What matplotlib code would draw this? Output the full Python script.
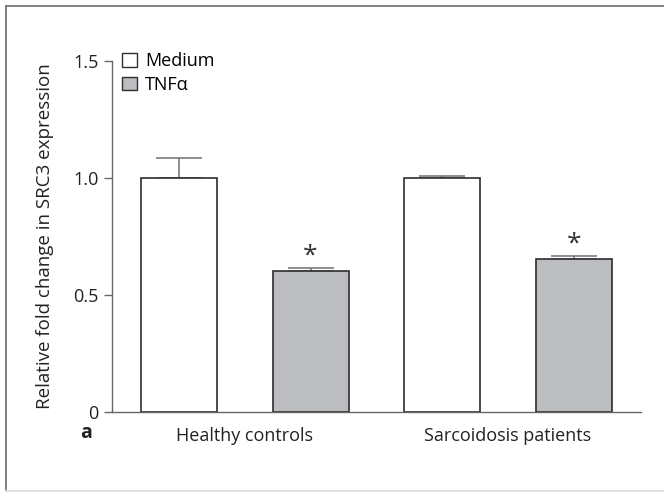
import matplotlib.pyplot as plt
from matplotlib.lines import Line2D
import numpy as np

plt.rcParams['font.family'] = ['Open Sans', 'DejaVu Sans']

groups = ['Healthy controls', 'Sarcoidosis patients']
conditions = ['Medium', 'TNF\u03b1']
medium = [1.0, 1.0]
medium_err = [0.083, 0.009]
tnf = [0.603, 0.654]
tnf_err = [0.010, 0.010]
significant = [True, True]

fig = plt.figure(figsize=(6.64, 4.92), dpi=100)
ax = fig.add_axes([0.169, 0.1632, 0.796, 0.7134])

# positions: Medium/TNF pairs for each group
pos_med = np.array([0, 2])
pos_tnf = np.array([1, 3])
w = 0.577
edge = '#2e2e2e'
gray = '#bcbdc1'
fs = 13

ax.bar(pos_med, medium, w, color='white', edgecolor=edge, linewidth=1.2, zorder=2)
ax.bar(pos_tnf, tnf, w, color=gray, edgecolor=edge, linewidth=1.2, zorder=2)
ax.errorbar(pos_med, medium, yerr=[np.zeros(2), medium_err], fmt='none',
            ecolor='#707070', elinewidth=1.1, capsize=16.5, capthick=1.1, zorder=1)
ax.errorbar(pos_tnf, tnf, yerr=[np.zeros(2), tnf_err], fmt='none',
            ecolor='#707070', elinewidth=1.1, capsize=16.5, capthick=1.1, zorder=1)

for x, y, e, s in zip(pos_tnf, tnf, tnf_err, significant):
    if s:
        ax.annotate('*', (x, y + e), xytext=(0, 0), textcoords='offset points',
                    ha='center', va='bottom', fontsize=19, color='#333333')

ax.set_xlim(-0.506, 3.508)
ax.set_ylim(0, 1.5)
ax.set_yticks([0, 0.5, 1.0, 1.5])
ax.set_yticklabels(['0', '0.5', '1.0', '1.5'])
ax.set_xticks([0.5, 2.5])
ax.set_xticklabels(groups)
ax.tick_params(axis='x', length=0, pad=11, labelsize=fs, colors='#222222')
ax.tick_params(axis='y', length=6, width=1, color='#666666', pad=4,
               labelsize=fs, labelcolor='#222222')
for sp in ['top', 'right']:
    ax.spines[sp].set_visible(False)
for sp in ['left', 'bottom']:
    ax.spines[sp].set_color('#666666')
    ax.spines[sp].set_linewidth(1)

ax.set_ylabel('Relative fold change in SRC3 expression', fontsize=13.5,
              color='#222222', labelpad=14)

handles = [plt.Rectangle((0, 0), 1, 1, facecolor='white', edgecolor=edge, linewidth=1),
           plt.Rectangle((0, 0), 1, 1, facecolor=gray, edgecolor=edge, linewidth=1)]
leg = ax.legend(handles, conditions, loc='upper left', bbox_to_anchor=(-0.005, 1.06),
                frameon=False, fontsize=fs, handlelength=0.8, handleheight=0.8,
                handletextpad=0.45, labelspacing=0.3, borderaxespad=0.3)

fig.text(80 / 664, 1 - 433 / 492, 'a', fontsize=14, fontweight='bold',
         ha='left', va='center', color='#222222')

# outer frame
fig.add_artist(Line2D([6 / 664, 6 / 664], [1 - 5.5 / 492, 1 - 490.5 / 492],
                      transform=fig.transFigure, color='#777777', lw=1.3))
fig.add_artist(Line2D([6 / 664, 1], [1 - 5.5 / 492, 1 - 5.5 / 492],
                      transform=fig.transFigure, color='#777777', lw=1.3))
fig.add_artist(Line2D([6 / 664, 1], [1 - 490.5 / 492, 1 - 490.5 / 492],
                      transform=fig.transFigure, color='#dddddd', lw=1.3))

fig.savefig('out.png', dpi=100)
